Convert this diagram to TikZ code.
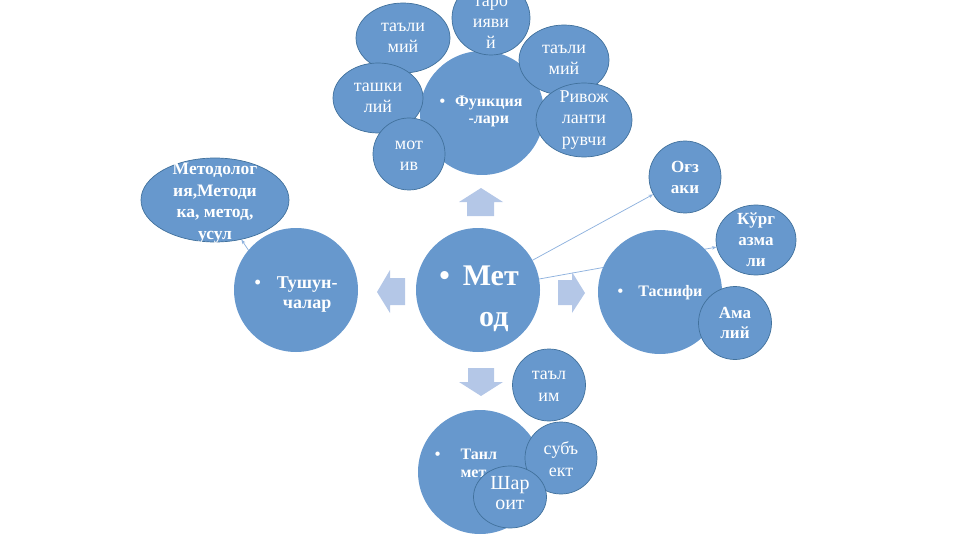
\documentclass[tikz,border=0pt]{standalone}
\usepackage{fontspec}
\setmainfont{Liberation Serif}
\usetikzlibrary{shapes.geometric,arrows.meta}
\pgfdeclarelayer{bg}
\pgfsetlayers{bg,main}
\definecolor{cfill}{RGB}{103,152,205}
\definecolor{cline}{RGB}{65,113,156}
\definecolor{carrow}{RGB}{180,199,231}
\definecolor{cconn}{RGB}{143,178,222}
\begin{document}
\begin{tikzpicture}[x=1pt,y=-1pt,
  bigc/.style={circle,fill=cfill,draw=none,minimum size=124pt,inner sep=0pt},
  smallc/.style={ellipse,fill=cfill,draw=cline,line width=0.7pt,inner sep=0pt},
  btxt/.style={text=white,inner sep=0pt,font=\bfseries},
  stxt/.style={text=white,inner sep=0pt,align=center,font=\fontsize{18}{21}\selectfont},
  sbtxt/.style={text=white,inner sep=0pt,align=center,font=\bfseries\fontsize{17}{21}\selectfont},
  blockarrow/.style={fill=carrow,draw=none},
  conn/.style={draw=cconn,line width=0.75pt,-{Stealth[length=4.5pt,width=3.5pt]}}
]
\useasboundingbox (0,0) rectangle (960,540);
\clip (0,0) rectangle (960,540);

% block arrows
\fill[blockarrow] (481,188) -- (503,202) -- (494,202) -- (494,216) -- (467,216) -- (467,202) -- (459,202) -- cycle;
\fill[blockarrow] (585,293) -- (572,313) -- (572,305) -- (558,305) -- (558,280) -- (572,280) -- (572,272) -- cycle;
\fill[blockarrow] (377,292) -- (390,270) -- (390,278) -- (405,278) -- (405,305) -- (390,305) -- (390,313) -- cycle;
\fill[blockarrow] (481,396) -- (459,382) -- (468,382) -- (468,368) -- (494,368) -- (494,382) -- (503,382) -- cycle;

% big circles
\node[bigc] (funk) at (482,113) {};
\node[btxt,font=\bfseries\fontsize{16}{17}\selectfont] (funk-t) at (481,112)
  {\begin{tabular}{@{}c@{\hspace{10pt}}c@{}}\textbullet & Функция\\ & -лари\end{tabular}};

% small circles around Funktsiyalari
\node[smallc,minimum width=94pt,minimum height=70pt] (taalim1) at (403,38) {};
\node[stxt] (taalim1-t) at (403,38) {таъли\\мий};
\node[smallc,minimum width=78pt,minimum height=74pt] (tarb) at (491,18) {};
\node[stxt] (tarb-t) at (491,21) {тарб\\ияви\\й};
\node[smallc,minimum width=90pt,minimum height=70pt] (taalim2) at (564,60) {};
\node[stxt] (taalim2-t) at (564,60) {таъли\\мий};
\node[smallc,minimum width=90pt,minimum height=70pt] (tashki) at (378,98) {};
\node[stxt] (tashki-t) at (378,98) {ташки\\лий};
\node[smallc,minimum width=72pt,minimum height=72pt] (motiv) at (409,154) {};
\node[stxt] (motiv-t) at (409,156) {мот\\ив};
\node[smallc,minimum width=96pt,minimum height=74pt] (rivozh) at (584,120) {};
\node[stxt,font=\fontsize{18}{21.5}\selectfont] (rivozh-t) at (584,120) {Ривож\\ланти\\рувчи};

% Tushunchalar
\node[bigc] (tushun) at (296,290) {};
\node[btxt,font=\bfseries\fontsize{18}{20}\selectfont] (tushun-t) at (296,294)
  {\begin{tabular}{@{}c@{\hspace{16pt}}c@{}}\textbullet & Тушун-\\ & чалар\end{tabular}};
\node[smallc,minimum width=148pt,minimum height=84pt] (metodologiya) at (215,200) {};
\node[sbtxt,font=\bfseries\fontsize{17.5}{21.5}\selectfont] (metodologiya-t) at (215,203) {Методолог\\ия,Методи\\ка, метод,\\усул};

% Metod
\node[bigc] (metod) at (478,290) {};
\node[btxt,font=\bfseries\fontsize{30}{41}\selectfont] (metod-t) at (479,298)
  {\begin{tabular}{@{}c@{\hspace{13pt}}c@{}}\textbullet & Мет\\ & \hspace{6pt}од\end{tabular}};

% Tasnifi
\node[bigc] (tasnif) at (660,292) {};
\node[btxt,font=\bfseries\fontsize{16}{19}\selectfont] (tasnif-t) at (660,293)
  {\begin{tabular}{@{}c@{\hspace{15pt}}c@{}}\textbullet & Таснифи\end{tabular}};
\node[smallc,minimum width=72pt,minimum height=72pt] (ogz) at (685,177) {};
\node[sbtxt] (ogz-t) at (685,177) {Оғз\\аки};
\node[smallc,minimum width=80pt,minimum height=70pt] (kurg) at (756,240) {};
\node[sbtxt] (kurg-t) at (756,240) {Кўрг\\азма\\ли};
\node[smallc,minimum width=73pt,minimum height=73pt] (amaliy) at (735,323) {};
\node[sbtxt,font=\bfseries\fontsize{17}{20}\selectfont] (amaliy-t) at (735,323) {Ама\\лий};

% Tanlash
\node[bigc] (tanl) at (480,472) {};
\node[btxt,font=\bfseries\fontsize{16}{18}\selectfont] (tanl-t) at (466,465)
  {\begin{tabular}{@{}c@{\hspace{20pt}}l@{}}\textbullet & Танл\\ & мет\end{tabular}};
\node[smallc,minimum width=73pt,minimum height=72pt] (talim) at (549,385) {};
\node[stxt,font=\fontsize{18}{22}\selectfont] (talim-t) at (549,386) {таъл\\им};
\node[smallc,minimum width=72pt,minimum height=72pt] (subekt) at (561,458) {};
\node[stxt,font=\fontsize{18}{22}\selectfont] (subekt-t) at (561,459) {субъ\\ект};
\node[smallc,minimum width=73pt,minimum height=62pt] (sharoit) at (510,497) {};
\node[stxt,font=\fontsize{20}{20}\selectfont] (sharoit-t) at (510,493) {Шар\\оит};

% connectors
\begin{pgfonlayer}{bg}
\draw[conn] (metod) -- (ogz);
\draw[conn] (metod) -- (kurg);
\draw[conn] (tushun.140) -- (metodologiya);
\end{pgfonlayer}
\end{tikzpicture}
\end{document}
